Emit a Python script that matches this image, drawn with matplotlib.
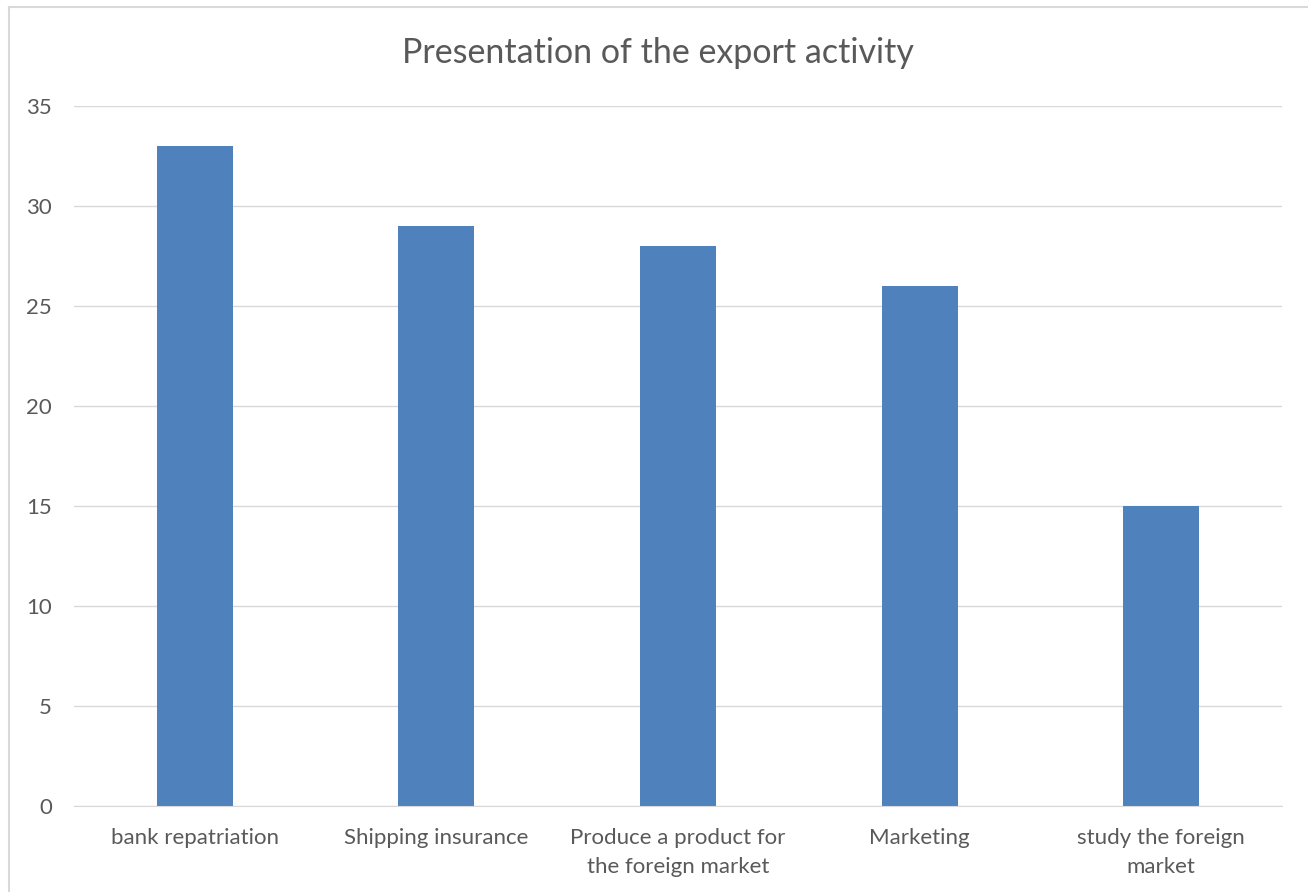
import matplotlib.pyplot as plt
from matplotlib.lines import Line2D

categories = ["bank repatriation", "Shipping insurance",
              "Produce a product for\nthe foreign market", "Marketing",
              "study the foreign\nmarket"]
values = [33, 29, 28, 26, 15]
yticks = [0, 5, 10, 15, 20, 25, 30, 35]

plt.rcParams['font.family'] = ['Lato', 'DejaVu Sans']
W, H = 1308, 892

fig = plt.figure(figsize=(W / 100, H / 100), dpi=100)
ax = fig.add_axes([74 / W, 1 - 806 / H, (1282 - 74) / W, 700 / H])

x = range(len(categories))
ax.bar(x, values, width=0.315, color="#4F81BD", zorder=3)

ax.set_xlim(-0.5, len(categories) - 0.5)
ax.set_ylim(0, 35)
ax.set_yticks(yticks)
ax.set_xticks(list(x))
ax.set_xticklabels(categories, fontsize=16, color="#595959", linespacing=1.55)
ax.tick_params(axis='y', labelsize=16, labelcolor="#595959", length=0, pad=16)
ax.tick_params(axis='x', length=0, pad=16)
ax.grid(axis='y', color="#D9D9D9", linewidth=1, zorder=0)
for s in ['top', 'right', 'left']:
    ax.spines[s].set_visible(False)
ax.spines['bottom'].set_color("#D9D9D9")
ax.spines['bottom'].set_zorder(4)

fig.text(0.503, 1 - 53 / H, "Presentation of the export activity",
         ha='center', va='center', fontsize=24.5, color="#595959")

# chart-area border (only left and top edges fall inside the image)
fig.lines.append(Line2D([8.5 / W, 8.5 / W], [0, 1 - 6.5 / H], transform=fig.transFigure,
                        color="#D9D9D9", linewidth=1.5))
fig.lines.append(Line2D([8.5 / W, 1], [1 - 6.5 / H, 1 - 6.5 / H], transform=fig.transFigure,
                        color="#D9D9D9", linewidth=1.5))

fig.savefig("out.png", dpi=100)
